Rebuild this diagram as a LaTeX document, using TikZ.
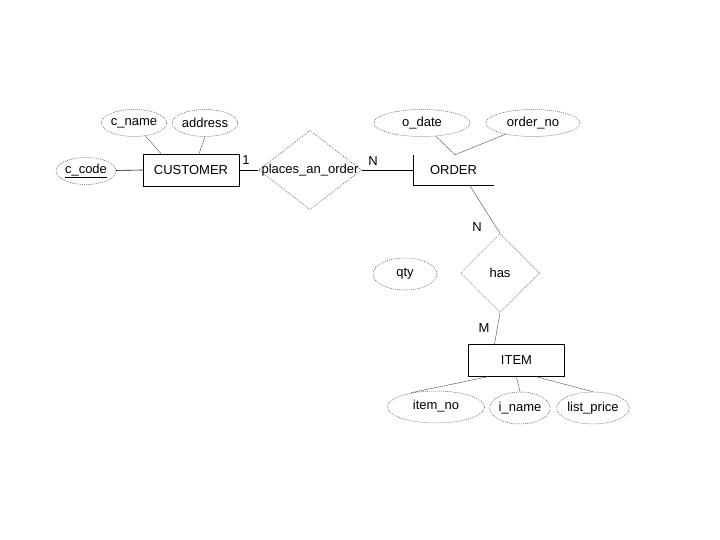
\documentclass[tikz,border=0pt]{standalone}
\usepackage{fontspec}
\setmainfont{Liberation Sans}
\usetikzlibrary{shapes.geometric}
\begin{document}
\begin{tikzpicture}[x=1pt,y=-1pt,font=\fontsize{13}{15}\selectfont,
  attr/.style={ellipse,draw=black!65,dash pattern=on 1pt off 1pt,line width=0.5pt,inner sep=0pt,minimum height=27pt},
  entity/.style={rectangle,draw,line width=0.6pt,inner sep=0pt,minimum height=32pt},
  rel/.style={diamond,draw=black!65,dash pattern=on 1pt off 1pt,line width=0.5pt,inner sep=0pt},
  link/.style={draw=black!60,line width=0.5pt},
  role/.style={inner sep=0pt}]
  \useasboundingbox (0,0) rectangle (720,540);
  % сущность CUSTOMER
  \node[entity,minimum width=96pt] (cust) at (191,170) {CUSTOMER};
  \node[attr,minimum width=56pt] (cname) at (134,123) {c\_name};
  \node[attr,minimum width=57pt] (address) at (205,123) {address};
  \node[attr,minimum width=60pt] (ccode) at (86,171) {\underline{c\_code}};
  \draw[line width=0.6pt] (ccode) -- (cust.west);
  \draw[link] (cname) -- ([xshift=-30pt]cust.north);
  \draw[link] (address.south) -- ([xshift=8pt]cust.north);
  % связь places_an_order
  \node[rel,minimum width=103pt,minimum height=79pt] (place) at (310,170) {};
  \node (placetxt) at (310,170) {places\_an\_order};
  \draw[line width=0.6pt] (cust.east) -- (place.west);
  \node[role] (one) at (246,160) {1};
  % сущность ORDER
  \node[minimum width=81pt,minimum height=30pt,inner sep=0pt] (order) at (453.5,170) {ORDER};
  \draw[line width=0.6pt] (order.north west) -- (order.south west) -- (order.south east);
  \node[attr,minimum width=96pt] (odate) at (422,123) {o\_date};
  \node[attr,minimum width=94pt] (orderno) at (533,123) {order\_no};
  \draw[line width=0.6pt] (place.east) -- (order.west);
  \node[role] (nord) at (373,161) {N};
  \draw[link] (odate) -- ([xshift=1.5pt]order.north);
  \draw[link] (orderno) -- ([xshift=1.5pt]order.north);
  % связь has
  \node[rel,minimum width=79pt,minimum height=79pt] (has) at (500,273) {};
  \node (hastxt) at (500,273) {has};
  \node[attr,minimum width=64pt,minimum height=32pt] (qty) at (405,274) {qty};
  \draw[link] ([xshift=16pt]order.south) -- (has.north);
  \node[role] (nhas) at (477,227) {N};
  % сущность ITEM
  \node[entity,minimum width=96pt] (item) at (516.5,360.5) {ITEM};
  \draw[link] (has.south) -- ([xshift=-22pt]item.north);
  \node[role] (mhas) at (484,328) {M};
  \node[attr,minimum width=97pt,minimum height=32pt] (itemno) at (436,407) {\raisebox{5pt}{item\_no}};
  \node[attr,minimum width=54pt,minimum height=32pt] (iname) at (520,408) {i\_name};
  \node[attr,minimum width=58pt,minimum height=32pt] (listprice) at (593,408) {list\_price};
  \draw[link] ([xshift=-29pt]item.south) -- ([xshift=-25pt,yshift=-2pt]itemno.north);
  \draw[link] (item.south) -- (iname.north);
  \draw[link] ([xshift=20pt]item.south) -- (listprice.north);
\end{tikzpicture}
\end{document}
